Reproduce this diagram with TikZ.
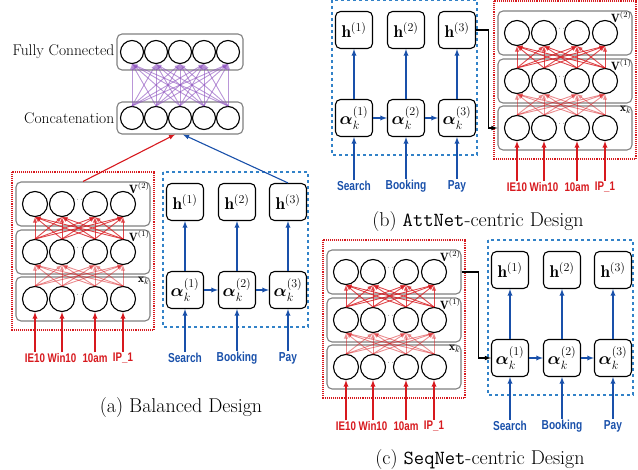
\documentclass[tikz,border=0pt]{standalone}
\usepackage{amssymb, amsmath}
\usepackage{fontspec}
\usepackage{tikz}
\usetikzlibrary{arrows}
\newfontfamily\lblfont{Liberation Sans}[FakeStretch=0.78]
\definecolor{netred}{RGB}{215,25,30}
\definecolor{netblue}{RGB}{25,80,170}
\definecolor{boxblue}{RGB}{50,130,200}
\definecolor{netviolet}{RGB}{140,80,190}

\tikzset{
  unit/.style={circle,draw,line width=1.1pt,minimum size=25pt,inner sep=0pt},
  layerbox/.style={draw=gray,rounded corners=5pt,line width=1.1pt,minimum width=134pt,minimum height=44pt},
  cell/.style={draw,rounded corners=5pt,line width=1.1pt,minimum size=37pt,inner sep=0pt,font=\fontsize{17}{19}\selectfont},
  reddot/.style={color=netred,densely dotted,line width=1.1pt},
  bluedash/.style={color=boxblue,dashed,line width=1.1pt},
  redlink/.style={-latex,netred,line width=0.9pt},
  redarr/.style={-latex,netred,line width=1.3pt},
  bluearr/.style={-latex,netblue,line width=1.3pt},
  redlbl/.style={text=netred,font=\lblfont\bfseries\fontsize{12.5}{14}\selectfont,inner sep=1pt},
  bluelbl/.style={text=netblue,font=\lblfont\bfseries\fontsize{13}{14}\selectfont,inner sep=1pt},
  caption/.style={font=\fontsize{20}{22}\selectfont}
}

% feature network with three layers
\newcommand{\mlpnet}[3]{%
\begin{scope}[shift={(#2,#3)}]
\draw[reddot] (0,0) rectangle (142,158);
\foreach \r/\yy in {1/127,2/80,3/32} {
  \node[layerbox] (#1l\r) at (71,\yy) {};
  \foreach \c/\xx in {1/23,2/50,3/83,4/111}
    \node[unit] (#1n\r\c) at (\xx,\yy) {};
  \node at (66.5,\yy-4) {\scriptsize$\cdots$};
}
\node[anchor=north east,inner sep=1pt,font=\large] at (#1l1.north east) {$\mathbf{x}_k$};
\node[anchor=north east,inner sep=1pt,font=\large] at (#1l2.north east) {$\mathbf{V}^{(1)}$};
\node[anchor=north east,inner sep=1pt,font=\large] at (#1l3.north east) {$\mathbf{V}^{(2)}$};
\foreach \i in {1,...,4}
  \foreach \j in {1,...,4} {
    \draw[redlink,opacity=0.5] (#1n1\i.north) -- (#1n2\j.south);
    \draw[redlink,opacity=0.8] (#1n2\i.north) -- (#1n3\j.south);
  }
\foreach \c/\t in {1/IE10,2/Win10,3/10am,4/IP\_1} {
  \node[redlbl] (#1in\c) at (#1n1\c |- 0,186) {\t};
  \draw[redarr] (#1in\c) -- (#1n1\c);
}
\end{scope}}

% sequence network with three steps
\newcommand{\rnnnet}[3]{%
\begin{scope}[shift={(#2,#3)}]
\draw[bluedash] (0,0) rectangle (145,155);
\foreach \c/\xx/\t in {1/22/Search,2/74/Booking,3/125/Pay} {
  \node[cell] (#1h\c) at (\xx,30) {$\mathbf{h}^{(\c)}$};
  \node[cell] (#1a\c) at (\xx,118) {$\boldsymbol{\alpha}_k^{(\c)}$};
  \node[bluelbl] (#1in\c) at (\xx,186) {\t};
  \draw[bluearr] (#1in\c) -- (#1a\c);
  \draw[bluearr] (#1a\c) -- (#1h\c);
}
\draw[bluearr] (#1a1) -- (#1a2);
\draw[bluearr] (#1a2) -- (#1a3);
\end{scope}}

\begin{document}
\begin{tikzpicture}[x=1pt,y=-1pt]
\useasboundingbox (0,0) rectangle (638,470);

% (a) balanced
\node[draw=gray,rounded corners=5pt,line width=1.1pt,minimum width=126pt,minimum height=36pt] (fc) at (180,52) {};
\node[draw=gray,rounded corners=5pt,line width=1.1pt,minimum width=126pt,minimum height=32pt] (concat) at (180,118) {};
\foreach \c/\xx in {1/132,2/156,3/180,4/204,5/228} {
  \node[unit,minimum size=23pt] (fc\c) at (\xx,52) {};
  \node[unit,minimum size=23pt] (cc\c) at (\xx,118) {};
}
\foreach \i in {1,...,5}
  \foreach \j in {1,...,5}
    \draw[-latex,netviolet,opacity=0.6,line width=0.9pt] (cc\i.north) -- (fc\j.south);
\node[left,font=\fontsize{15.5}{17}\selectfont,inner sep=2pt] at (fc.west) {Fully Connected};
\node[left,font=\fontsize{15.5}{17}\selectfont,inner sep=2pt] at (concat.west) {Concatenation};

\mlpnet{a}{12}{172}
\rnnnet{r}{163}{172}
\draw[-latex,netred,line width=1.1pt] (al3.north) -- ([xshift=-5pt]concat.south);
\draw[-latex,netblue,line width=1.1pt] (rh3.north) -- ([xshift=3pt]concat.south);
\node[caption] (capa) at (181,408) {(a) Balanced Design};

% (b) attnet-centric
\rnnnet{s}{332}{0}
\mlpnet{b}{494}{1}
\draw[-latex,line width=1.1pt] (sh3.east) -- ++(12,0) |- (bl1.west);
\node[caption] (capb) at (478,222) {(b) \texttt{AttNet}-centric Design};

% (c) seqnet-centric
\mlpnet{c}{323}{240}
\rnnnet{t}{488}{240}
\draw[-latex,line width=1.1pt] (cl3.east) -- ++(17,0) |- (ta1.west);
\node[caption] (capc) at (480,460) {(c) \texttt{SeqNet}-centric Design};
\end{tikzpicture}
\end{document}
